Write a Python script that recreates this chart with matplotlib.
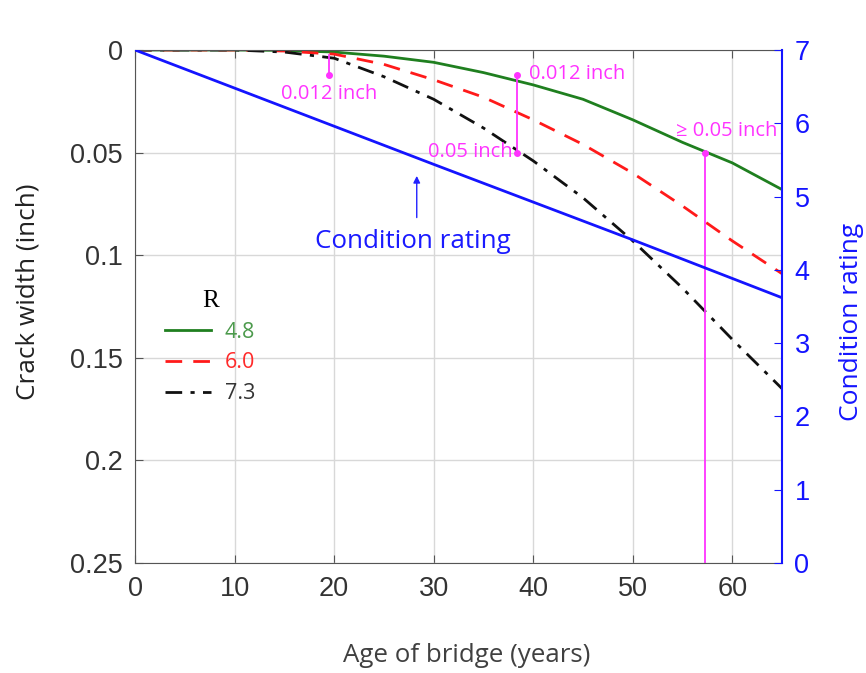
import matplotlib.pyplot as plt

# crack width (inch) vs bridge age for three R values
age = [0, 5, 10, 15, 20, 25, 30, 35, 40, 45, 50, 55, 60, 65]
w_48 = [0, 0, 0, 0.0002, 0.001, 0.003, 0.006, 0.011, 0.017, 0.024, 0.034, 0.045, 0.055, 0.068]
w_60 = [0, 0, 0, 0.0005, 0.002, 0.007, 0.0145, 0.023, 0.034, 0.046, 0.060, 0.076, 0.093, 0.109]
w_73 = [0, 0, 0, 0.001, 0.004, 0.013, 0.024, 0.038, 0.054, 0.072, 0.093, 0.116, 0.141, 0.165]

# condition rating (right axis)
cr_age = [0, 30, 50, 65]
cr = [7.0, 5.44, 4.41, 3.62]

mag = '#ff33ff'
blue = '#1414ff'
sans = ['Open Sans', 'DejaVu Sans']
tickfont = 'Liberation Sans'

fig = plt.figure(figsize=(8.66, 6.73), dpi=100)
ax = fig.add_axes([0.156, 0.1634, 0.747, 0.7623])

ax.plot(age, w_48, color='#1f7f1f', lw=2, label='4.8')
ax.plot(age, w_60, color='#ff1a1a', lw=2, ls=(0, (6, 4)), label='6.0')
ax.plot(age, w_73, color='#111111', lw=2, ls=(0, (6, 3, 1.5, 3)), label='7.3')

ax.set_xlim(0, 65)
ax.set_ylim(0.25, 0)
ax.set_xticks([0, 10, 20, 30, 40, 50, 60])
ax.set_yticks([0, 0.05, 0.1, 0.15, 0.2, 0.25])
ax.set_yticklabels(['0', '0.05', '0.1', '0.15', '0.2', '0.25'])
ax.grid(True, color='#d8d8d8', lw=1)
ax.set_axisbelow(True)
ax.tick_params(direction='in', length=6, labelsize=19.5, colors='#555555',
               labelcolor='#333333', top=True, right=False, pad=9)
for lab in ax.get_xticklabels() + ax.get_yticklabels():
    lab.set_family(tickfont)
for s in ['left', 'bottom', 'top']:
    ax.spines[s].set_color('#555555')
ax.spines['right'].set_visible(False)

ax.set_xlabel('Age of bridge (years)', family=sans, fontsize=18.6, color='#404040')
ax.xaxis.set_label_coords(0.512, -0.155)
ax.set_ylabel('Crack width (inch)', family=sans, fontsize=18.8, color='#222222')
ax.yaxis.set_label_coords(-0.147, 0.528)

# annotations
ax.plot([19.5, 19.5], [0.0025, 0.012], color=mag, lw=1.3)
ax.plot([19.5], [0.012], 'o', color=mag, ms=4)
ax.text(19.5, 0.0215, '0.012 inch', color=mag, family=sans, fontsize=14.5, ha='center', va='center')

ax.plot([38.4, 38.4], [0.012, 0.05], color=mag, lw=1.3, marker='o', ms=4)
ax.text(39.6, 0.0115, '0.012 inch', color=mag, family=sans, fontsize=14.5, ha='left', va='center')
ax.text(37.9, 0.0495, '0.05 inch', color=mag, family=sans, fontsize=14.5, ha='right', va='center')

ax.plot([57.3, 57.3], [0.05, 0.25], color=mag, lw=1.3)
ax.plot([57.3], [0.05], 'o', color=mag, ms=4)
ax.text(59.4, 0.0395, '≥ 0.05 inch', color=mag, family=sans, fontsize=14.5, ha='center', va='center')

ax.annotate('', xy=(28.3, 0.060), xytext=(28.3, 0.083),
            arrowprops=dict(arrowstyle='-|>', color='#2222ff', lw=1, mutation_scale=10))
ax.text(27.9, 0.0935, 'Condition rating', color='#1a1aff', family=sans, fontsize=18.7,
        ha='center', va='center')

leg = ax.legend(loc='upper left', bbox_to_anchor=(0.017, 0.57), frameon=False,
                handlelength=2.1, handletextpad=0.65, labelspacing=0.45,
                fontsize=15.5, title='R',
                labelcolor=['#4c9a4c', '#ff2a2a', '#333333'])
leg.get_title().set_family('Liberation Serif')
leg.get_title().set_fontsize(18)
for t in leg.get_texts():
    t.set_family(sans)

# right axis: condition rating
ax2 = ax.twinx()
ax2.plot(cr_age, cr, color=blue, lw=2)
ax2.set_ylim(0, 7)
ax2.set_yticks(range(8))
ax2.tick_params(direction='in', length=6, labelsize=19.5, colors=blue, pad=9)
for lab in ax2.get_yticklabels():
    lab.set_family(tickfont)
for s in ['left', 'bottom', 'top']:
    ax2.spines[s].set_visible(False)
ax2.spines['right'].set_color(blue)
ax2.spines['right'].set_linewidth(1.5)
ax2.set_ylabel('Condition rating', family=sans, fontsize=19, color=blue)
ax2.yaxis.set_label_coords(1.088, 0.47)

fig.savefig('out.png', dpi=100)
